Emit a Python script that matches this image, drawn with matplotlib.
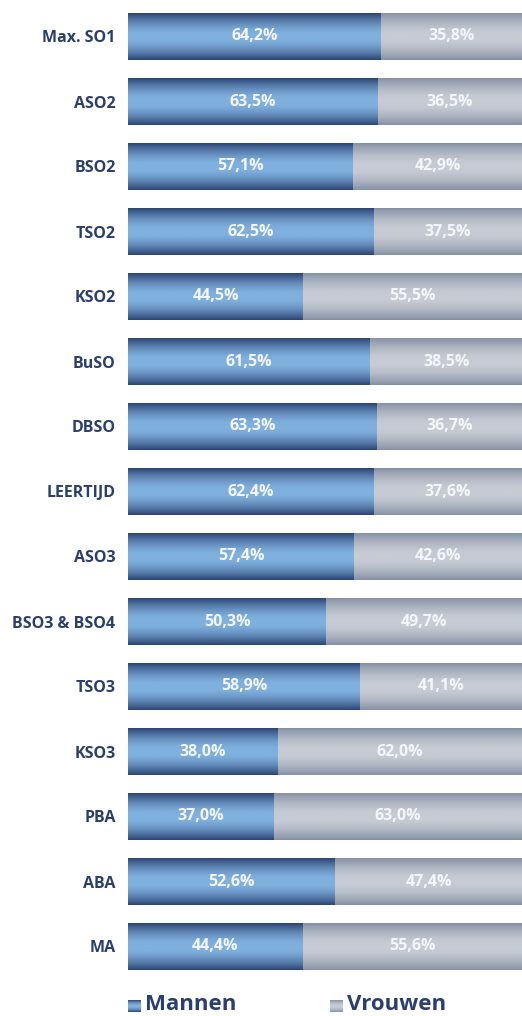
import numpy as np
import matplotlib
matplotlib.use('Agg')
import matplotlib.pyplot as plt
from matplotlib.colors import to_rgb

plt.rcParams['font.family'] = ['Open Sans', 'DejaVu Sans']

categories = ['Max. SO1', 'ASO2', 'BSO2', 'TSO2', 'KSO2', 'BuSO', 'DBSO',
              'LEERTIJD', 'ASO3', 'BSO3 & BSO4', 'TSO3', 'KSO3', 'PBA',
              'ABA', 'MA']
mannen = [64.2, 63.5, 57.1, 62.5, 44.5, 61.5, 63.3, 62.4, 57.4, 50.3,
          58.9, 38.0, 37.0, 52.6, 44.4]
vrouwen = [35.8, 36.5, 42.9, 37.5, 55.5, 38.5, 36.7, 37.6, 42.6, 49.7,
           41.1, 62.0, 63.0, 47.4, 55.6]
series_names = ['Mannen', 'Vrouwen']

BLUE_EDGE, BLUE_MID = '#2b4474', '#80b0de'
GRAY_EDGE, GRAY_MID = '#8591a4', '#c6cbd4'
LABEL_COLOR = '#2b3f6e'


def gradient(edge, mid, n=200):
    # vertical gradient: dark at top/bottom, light band in the middle
    e, m = np.array(to_rgb(edge)), np.array(to_rgb(mid))
    t = np.abs(np.linspace(-1, 1, n))
    w = np.clip((t - 0.1) / 0.9, 0, 1) ** 1.6
    img = m[None, :] * (1 - w[:, None]) + e[None, :] * w[:, None]
    return img[:, None, :]


def fill_gradient(ax, patches, edge, mid):
    img = gradient(edge, mid)
    for p in patches:
        x, y = p.get_x(), p.get_y()
        w, h = p.get_width(), p.get_height()
        im = ax.imshow(img, extent=(x, x + w, y + h, y), aspect='auto',
                       interpolation='bilinear', zorder=2)
        im.set_clip_path(p)


fig = plt.figure(figsize=(5.22, 10.16), dpi=100)
ax = fig.add_axes([128 / 522, 37 / 1016, 394 / 522, 975 / 1016])

y = np.arange(len(categories))
h = 0.72
b1 = ax.barh(y, mannen, height=h, color='none', edgecolor='none')
b2 = ax.barh(y, vrouwen, left=mannen, height=h, color='none',
             edgecolor='none')
fill_gradient(ax, b1, BLUE_EDGE, BLUE_MID)
fill_gradient(ax, b2, GRAY_EDGE, GRAY_MID)

for i in range(len(categories)):
    ax.text(mannen[i] / 2, y[i], f'{mannen[i]:.1f}%'.replace('.', ','),
            ha='center', va='center', color='#f4f6fa', fontsize=11.5,
            fontweight='bold', zorder=3)
    ax.text(mannen[i] + vrouwen[i] / 2, y[i],
            f'{vrouwen[i]:.1f}%'.replace('.', ','),
            ha='center', va='center', color='#f4f6fa', fontsize=11.5,
            fontweight='bold', zorder=3)

ax.set_xlim(0, 100)
ax.set_ylim(len(categories) - 0.5, -0.5)
ax.set_yticks(y)
ax.set_yticklabels(categories, fontsize=11.5, fontweight='bold',
                   color=LABEL_COLOR)
ax.set_xticks([])
ax.tick_params(axis='y', length=0, pad=9)
for s in ax.spines.values():
    s.set_visible(False)

# legend with gradient swatches
for x0, name, (edge, mid) in zip([128, 330], series_names,
                                 [(BLUE_EDGE, BLUE_MID),
                                  (GRAY_EDGE, GRAY_MID)]):
    sw = fig.add_axes([x0 / 522, 4 / 1016, 13 / 522, 12 / 1016])
    sw.imshow(gradient(edge, mid), aspect='auto', interpolation='bilinear')
    sw.axis('off')
    fig.text((x0 + 17) / 522, 1 / 1016, name, ha='left', va='bottom',
             fontsize=16, fontweight='bold', color=LABEL_COLOR)

fig.savefig('out.png', dpi=100)
